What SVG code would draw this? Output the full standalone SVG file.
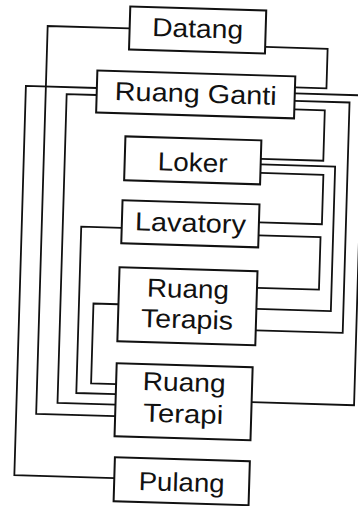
<svg xmlns="http://www.w3.org/2000/svg" width="358" height="506" viewBox="0 0 358 506">
<style>
.box{fill:none;stroke:#111;stroke-width:2}
.lbl{font-family:"Liberation Sans",Arial,sans-serif;font-size:26px;fill:#111;text-anchor:middle}
.wire{fill:none;stroke:#111;stroke-width:1.8}
</style>
<rect width="358" height="506" fill="#fff"/>
<g transform="rotate(1.7 179 253)">
<g id="connectors">
<path class="wire" d="M92,90.5 H21 V480 H121"/>
<path class="wire" d="M123,30 H41 V418 H120"/>
<path class="wire" d="M92,97.5 H62 V406.5 H120"/>
<path class="wire" d="M121,229.5 H80.5 V396 H120"/>
<path class="wire" d="M120,306 H95 V386 H120"/>
<path class="wire" d="M259,44.5 H321.5 V84 H290"/>
<path class="wire" d="M290,90 H358.5 V400 H256"/>
<path class="wire" d="M290,97.5 H345 V328 H258"/>
<path class="wire" d="M290,106 H320.5 V156.5 H258"/>
<path class="wire" d="M258,162 H332.5 V306.5 H258"/>
<path class="wire" d="M258,170.5 H321 V220 H258"/>
<path class="wire" d="M258,233 H320 V285.5 H258"/>
</g>
<g id="datang"><rect class="box" x="123" y="8" width="136" height="43"/><text class="lbl" x="191" y="37" textLength="91" lengthAdjust="spacingAndGlyphs">Datang</text></g>
<g id="ruang-ganti"><rect class="box" x="92" y="73" width="198" height="42"/><text class="lbl" x="191" y="102" textLength="162" lengthAdjust="spacingAndGlyphs">Ruang Ganti</text></g>
<g id="loker"><rect class="box" x="122" y="138" width="136" height="44"/><text class="lbl" x="190" y="171" textLength="70" lengthAdjust="spacingAndGlyphs">Loker</text></g>
<g id="lavatory"><rect class="box" x="121" y="202" width="137" height="43"/><text class="lbl" x="189.5" y="231.5" textLength="111" lengthAdjust="spacingAndGlyphs">Lavatory</text></g>
<g id="ruang-terapis"><rect class="box" x="120" y="269" width="138" height="74"/><text class="lbl" x="189" y="297.5" textLength="82" lengthAdjust="spacingAndGlyphs">Ruang</text><text class="lbl" x="189" y="328" textLength="92" lengthAdjust="spacingAndGlyphs">Terapis</text></g>
<g id="ruang-terapi"><rect class="box" x="120" y="365" width="136" height="73"/><text class="lbl" x="188" y="391" textLength="83" lengthAdjust="spacingAndGlyphs">Ruang</text><text class="lbl" x="188" y="422.5" textLength="80" lengthAdjust="spacingAndGlyphs">Terapi</text></g>
<g id="pulang"><rect class="box" x="121" y="459" width="135" height="44"/><text class="lbl" x="188.5" y="491" textLength="86" lengthAdjust="spacingAndGlyphs">Pulang</text></g>
</g>
</svg>
